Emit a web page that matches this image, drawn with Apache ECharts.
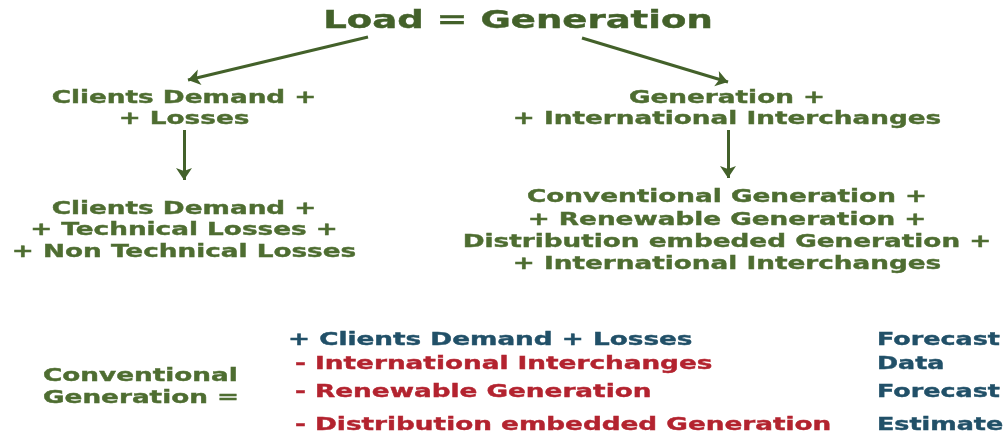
<!DOCTYPE html>
<html>
<head>
<meta charset="utf-8">
<script src="https://cdn.jsdelivr.net/npm/echarts@6/dist/echarts.min.js"></script>
<style>
  html, body { margin: 0; padding: 0; background: #fff; }
  #chart { width: 1005px; height: 436px; }
</style>
</head>
<body>
<div id="chart"></div>
<script>
// texts of the diagram
const titleText = ['Load = Generation'];
const leftTop = ['Clients Demand +', '+ Losses'];
const leftBottom = ['Clients Demand +', '+ Technical Losses +', '+ Non Technical Losses'];
const rightTop = ['Generation +', '+ International Interchanges'];
const rightBottom = ['Conventional Generation +', '+ Renewable Generation +',
                     'Distribution embeded Generation +', '+ International Interchanges'];
const formulaName = ['Conventional', 'Generation ='];
const formulaTerms = ['+ Clients Demand + Losses', '- International Interchanges',
                      '- Renewable Generation', '- Distribution embedded Generation'];
const termSign = ['+', '-', '-', '-'];
const termSource = ['Forecast', 'Data', 'Forecast', 'Estimate'];

// layout (axis units = pixels of the picture)
const titlePos = [518, 21];
const leftX = 184, rightX = 727;
const topRowsY = [98, 119];
const leftBottomY = [209, 230, 252];
const rightBottomY = [197, 220, 242, 264];
const nameX = 43, nameY = [376, 398];
const termX = [288, 295, 295, 295], termY = [340, 364, 392, 425];
const sourceX = 877;
const arrows = [
  [[368, 37], [188, 80]],
  [[582, 38], [728, 82]],
  [[184, 130], [184, 180]],
  [[728, 130], [728, 178]]
];

const green = '#4e6d31';
const darkGreen = '#43612a';
const blue = '#215068';
const red = '#b3232f';
const font = '"DejaVu Sans", Verdana, sans-serif';

function textSeries(name, lines, xs, ys, opt) {
  const size = opt.size || 18;
  const stretch = opt.stretch || 1.46; // the lettering is wide, like a stretched slide
  const align = opt.align || 'center';
  return {
    name: name,
    type: 'custom',
    silent: true,
    clip: false,
    data: lines.map((t, i) => [Array.isArray(xs) ? xs[i] : xs, ys[i]]),
    renderItem: function (params, api) {
      const p = api.coord([api.value(0), api.value(1)]);
      const i = params.dataIndex;
      const c = typeof opt.color === 'function' ? opt.color(i) : (opt.color || green);
      return {
        type: 'text',
        x: p[0],
        y: p[1],
        scaleX: stretch,
        style: {
          text: lines[i],
          font: 'bold ' + size + 'px ' + font,
          fill: c,
          stroke: c,
          lineWidth: 0.4,
          align: align,
          verticalAlign: 'middle'
        }
      };
    }
  };
}

let option = {
  backgroundColor: '#ffffff',
  animation: false,
  grid: { left: 0, right: 0, top: 0, bottom: 0 },
  xAxis: { type: 'value', min: 0, max: 1005, show: false },
  yAxis: { type: 'value', min: 0, max: 436, inverse: true, show: false },
  series: [
    textSeries('title', titleText, titlePos[0], [titlePos[1]], { size: 25, stretch: 1.48, color: darkGreen }),
    textSeries('leftTop', leftTop, leftX, topRowsY, {}),
    textSeries('leftBottom', leftBottom, leftX, leftBottomY, {}),
    textSeries('rightTop', rightTop, rightX, topRowsY, {}),
    textSeries('rightBottom', rightBottom, rightX, rightBottomY, {}),
    textSeries('formulaName', formulaName, nameX, nameY, { align: 'left' }),
    textSeries('formulaTerms', formulaTerms, termX, termY,
      { align: 'left', color: i => termSign[i] === '+' ? blue : red }),
    textSeries('sources', termSource, sourceX, termY, { align: 'left', color: blue, stretch: 1.41 }),
    {
      name: 'arrows',
      type: 'lines',
      coordinateSystem: 'cartesian2d',
      silent: true,
      symbol: ['none', 'arrow'],
      symbolSize: 12,
      lineStyle: { color: darkGreen, width: 3, opacity: 1 },
      data: arrows.map(a => ({ coords: a }))
    }
  ]
};

let myChart = echarts.init(document.getElementById('chart'));
myChart.setOption(option);
</script>
</body>
</html>
